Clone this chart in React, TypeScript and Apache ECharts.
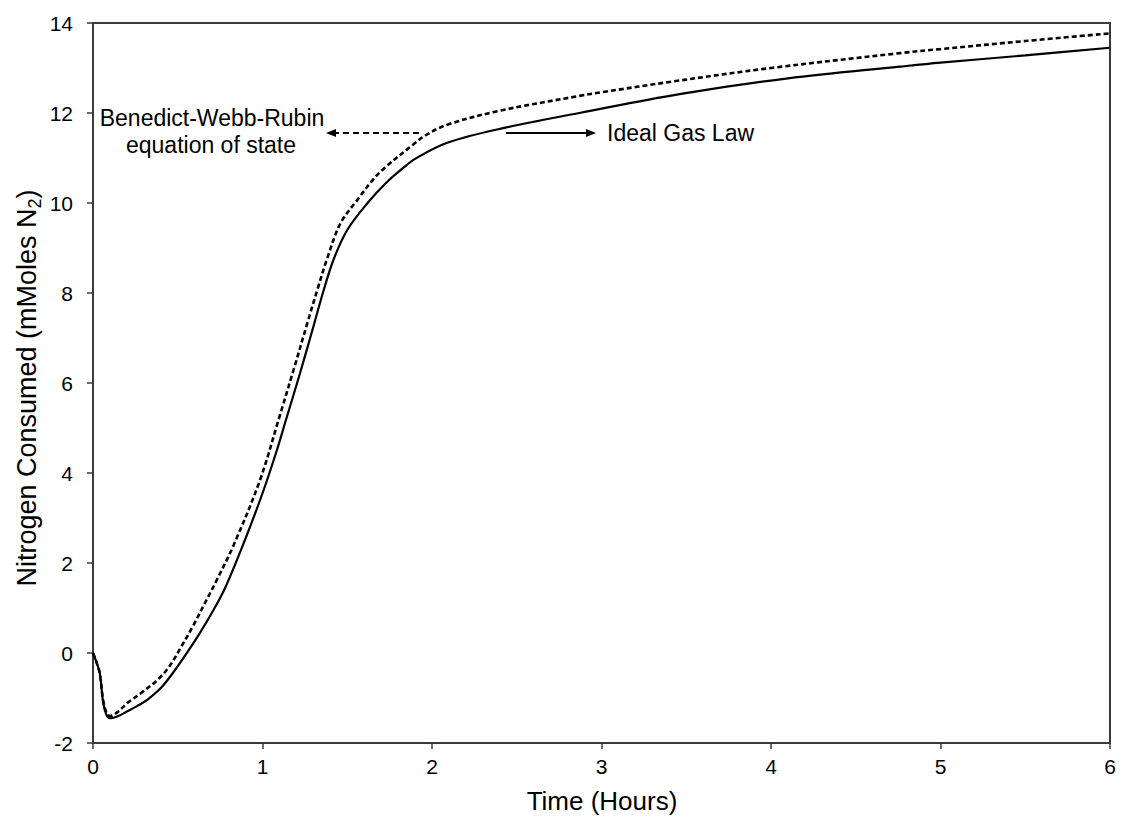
import React, { useEffect, useRef } from "react";
import * as echarts from "echarts";

// Time in hours and nitrogen consumed (mmol N2), Ideal Gas Law
const idealTime = [0, 0.02, 0.04, 0.06, 0.08, 0.1, 0.15, 0.2, 0.26, 0.32, 0.4, 0.47, 0.55, 0.63, 0.71, 0.78, 0.89, 1.0, 1.08, 1.14, 1.22, 1.3, 1.36, 1.42, 1.5, 1.62, 1.73, 1.83, 1.9, 2.09, 2.44, 2.87, 3.46, 4.1, 4.76, 5.0, 5.5, 6.0];
const idealN2 = [0, -0.2, -0.45, -1.1, -1.38, -1.45, -1.4, -1.3, -1.18, -1.04, -0.78, -0.45, -0.02, 0.44, 0.95, 1.45, 2.45, 3.55, 4.45, 5.2, 6.2, 7.25, 8.05, 8.75, 9.4, 10.0, 10.45, 10.78, 10.98, 11.34, 11.68, 12.0, 12.42, 12.77, 13.03, 13.12, 13.28, 13.45];

// Benedict-Webb-Rubin equation of state
const bwrTime = [0, 0.02, 0.04, 0.06, 0.08, 0.1, 0.15, 0.2, 0.28, 0.38, 0.45, 0.51, 0.59, 0.67, 0.73, 0.83, 0.985, 1.1, 1.18, 1.27, 1.33, 1.38, 1.46, 1.56, 1.65, 1.72, 1.89, 1.96, 2.09, 2.4, 2.87, 3.0, 3.42, 4.0, 4.76, 5.0, 5.5, 6.0];
const bwrN2 = [0, -0.2, -0.45, -1.05, -1.33, -1.4, -1.3, -1.12, -0.9, -0.6, -0.3, 0.07, 0.6, 1.18, 1.62, 2.4, 3.84, 5.25, 6.25, 7.4, 8.15, 8.75, 9.55, 10.07, 10.51, 10.78, 11.3, 11.5, 11.74, 12.05, 12.38, 12.46, 12.7, 13.0, 13.33, 13.42, 13.6, 13.77];

const FONT = "'Liberation Sans', Arial, sans-serif";
const AXIS_COLOR = "#3a3a3a";

const pairs = (xs: number[], ys: number[]) => xs.map((x, i) => [x, ys[i]]);

export default function App() {
  const ref = useRef<HTMLDivElement>(null);

  useEffect(() => {
    if (!ref.current) return;
    const chart = echarts.init(ref.current, null, { renderer: "svg" });

    const arrowHead = (tipX: number, tipY: number, dir: number) => ({
      type: "polygon",
      shape: {
        points: [
          [tipX, tipY],
          [tipX - dir * 10, tipY - 4],
          [tipX - dir * 10, tipY + 4],
        ],
      },
      style: { fill: "#000" },
    });

    chart.setOption({
      animation: false,
      backgroundColor: "#fff",
      grid: {
        left: 93,
        top: 23,
        right: 15,
        bottom: 74,
        show: true,
        borderColor: AXIS_COLOR,
        borderWidth: 2,
      },
      xAxis: {
        type: "value",
        min: 0,
        max: 6,
        interval: 1,
        axisLine: { show: true, onZero: false, lineStyle: { color: AXIS_COLOR, width: 2 } },
        axisTick: { show: true, inside: false, length: 6, lineStyle: { color: AXIS_COLOR, width: 1.5 } },
        axisLabel: { color: "#000", fontFamily: FONT, fontSize: 21, margin: 13 },
        splitLine: { show: false },
      },
      yAxis: {
        type: "value",
        min: -2,
        max: 14,
        interval: 2,
        axisLine: { show: true, onZero: false, lineStyle: { color: AXIS_COLOR, width: 2 } },
        axisTick: { show: true, inside: false, length: 6, lineStyle: { color: AXIS_COLOR, width: 1.5 } },
        axisLabel: { color: "#000", fontFamily: FONT, fontSize: 21, margin: 20 },
        splitLine: { show: false },
      },
      series: [
        {
          name: "Ideal Gas Law",
          type: "line",
          data: pairs(idealTime, idealN2),
          smooth: 0.35,
          showSymbol: false,
          lineStyle: { color: "#000", width: 2.2, type: "solid" },
        },
        {
          name: "Benedict-Webb-Rubin equation of state",
          type: "line",
          data: pairs(bwrTime, bwrN2),
          smooth: 0.35,
          showSymbol: false,
          lineStyle: { color: "#000", width: 2.6, type: [5, 3] },
        },
      ],
      graphic: [
        {
          type: "text",
          x: 602,
          y: 801,
          style: { text: "Time (Hours)", fontFamily: FONT, fontSize: 26, fill: "#000", align: "center", verticalAlign: "middle" },
        },
        {
          type: "text",
          x: 27,
          y: 388,
          rotation: Math.PI / 2,
          style: {
            text: "Nitrogen Consumed (mMoles N{sub|2})",
            fontFamily: FONT,
            fontSize: 27,
            fill: "#000",
            align: "center",
            verticalAlign: "middle",
            rich: {
              sub: { fontFamily: FONT, fontSize: 18, fill: "#000", verticalAlign: "bottom", lineHeight: 34 },
            },
          },
        },
        {
          type: "text",
          x: 212,
          y: 118,
          style: { text: "Benedict-Webb-Rubin", fontFamily: FONT, fontSize: 23, fill: "#000", align: "center", verticalAlign: "middle" },
        },
        {
          type: "text",
          x: 211,
          y: 145,
          style: { text: "equation of state", fontFamily: FONT, fontSize: 23, fill: "#000", align: "center", verticalAlign: "middle" },
        },
        {
          type: "line",
          shape: { x1: 419, y1: 133, x2: 334, y2: 133 },
          style: { stroke: "#000", lineWidth: 2, lineDash: [6, 4] },
        },
        arrowHead(326, 133, -1),
        {
          type: "line",
          shape: { x1: 506, y1: 133, x2: 588, y2: 133 },
          style: { stroke: "#000", lineWidth: 2 },
        },
        arrowHead(596, 133, 1),
        {
          type: "text",
          x: 607,
          y: 133,
          style: { text: "Ideal Gas Law", fontFamily: FONT, fontSize: 23, fill: "#000", align: "left", verticalAlign: "middle" },
        },
      ],
    });

    return () => chart.dispose();
  }, []);

  return (
    <div
      ref={ref}
      style={{ position: "absolute", left: 0, top: 0, width: 1125, height: 817, background: "#fff" }}
    />
  );
}
